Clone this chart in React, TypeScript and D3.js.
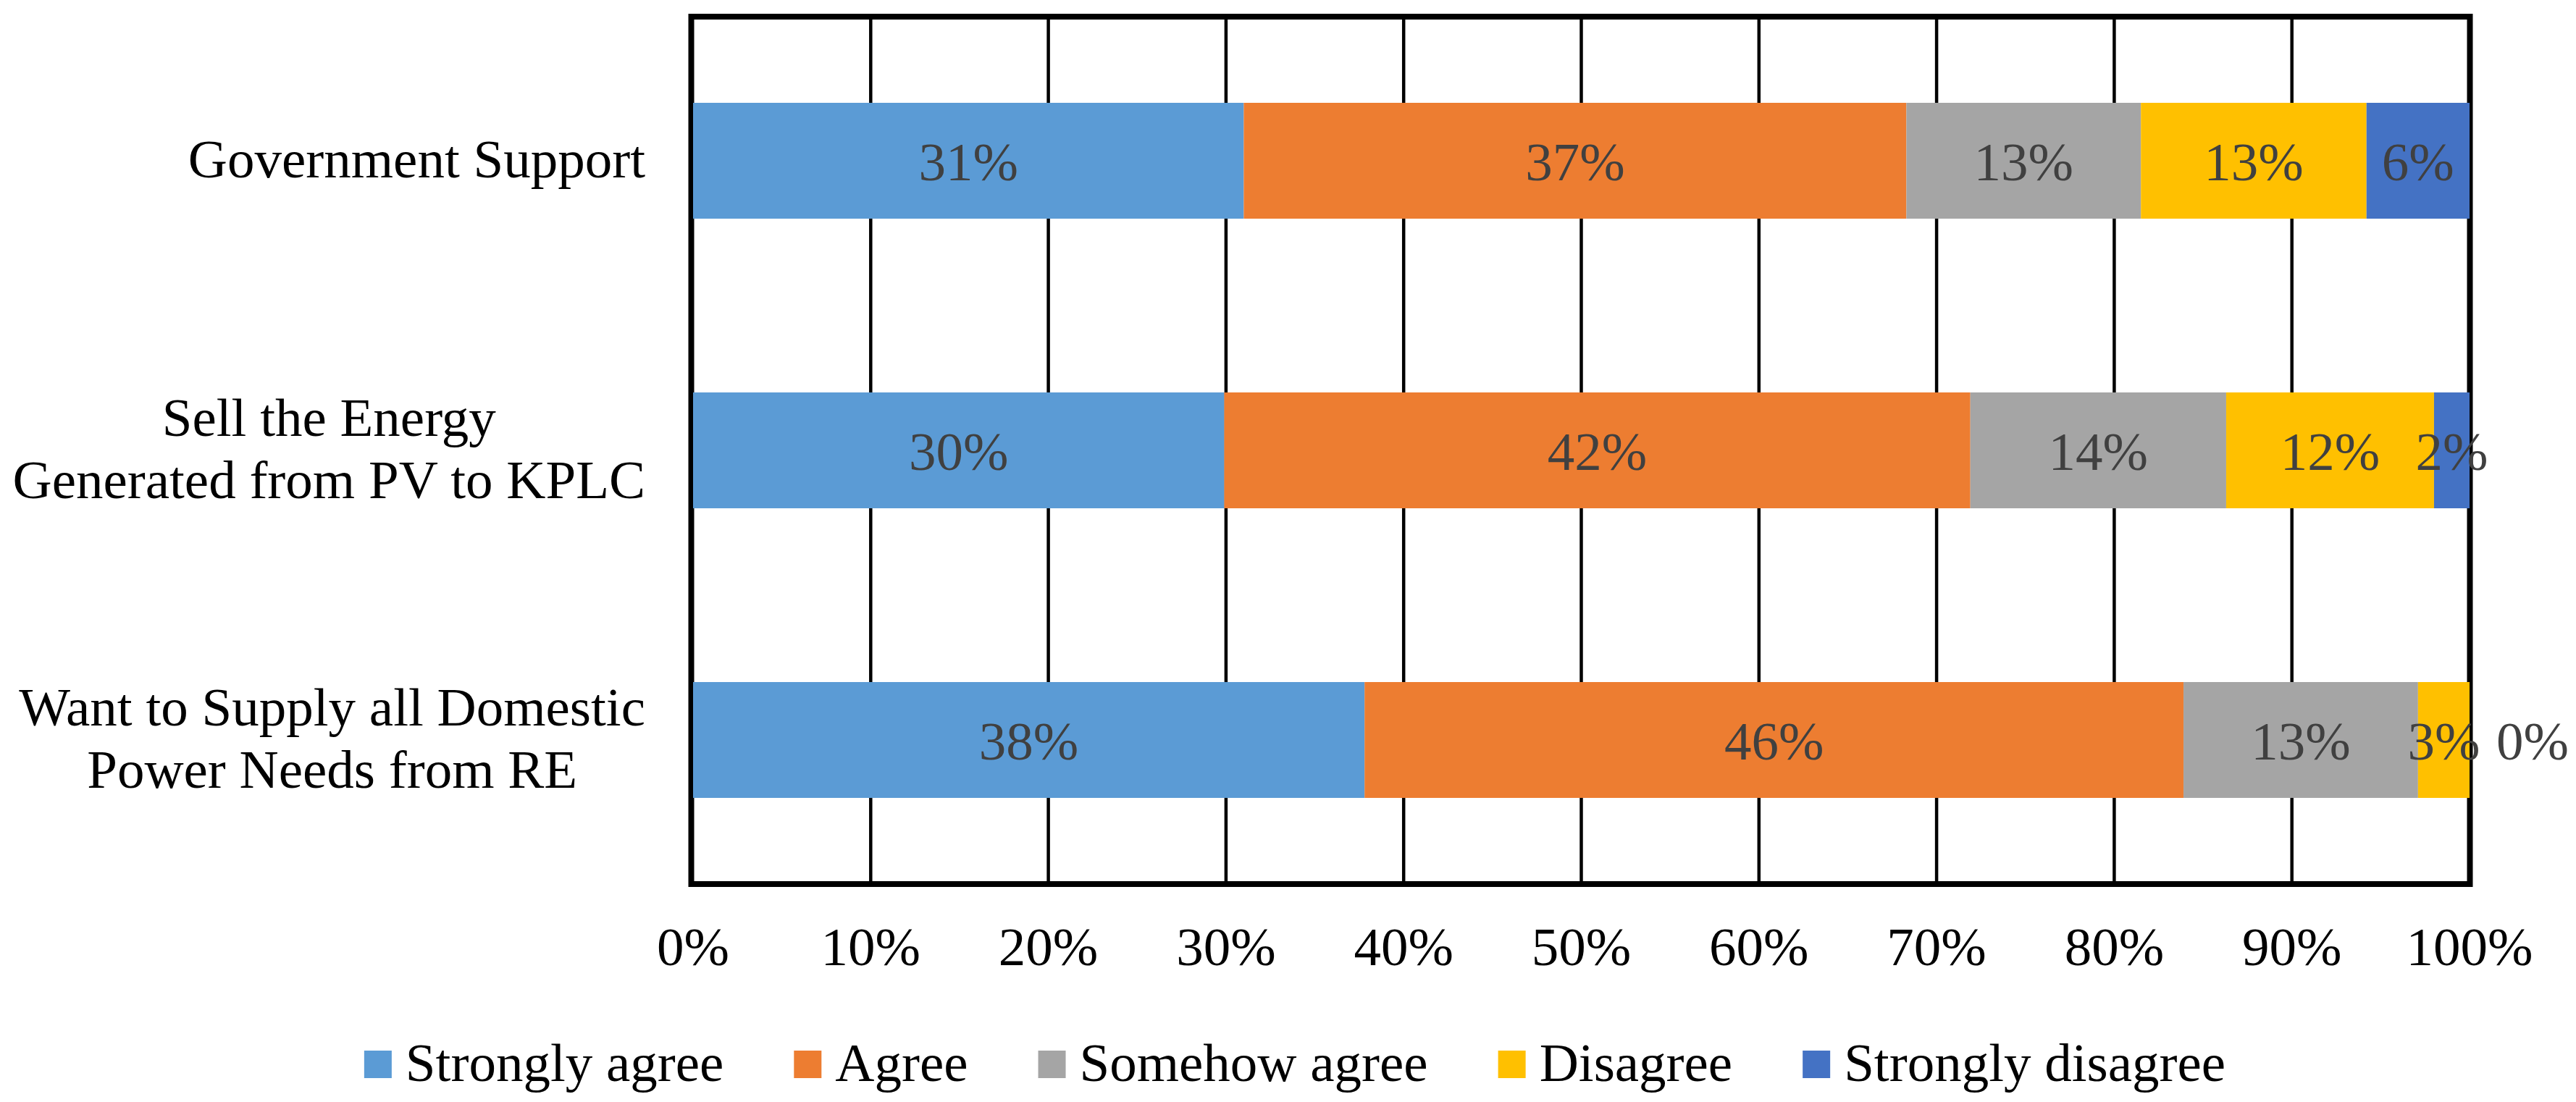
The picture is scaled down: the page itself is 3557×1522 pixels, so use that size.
import React, { useLayoutEffect, useRef, useState } from 'react';
import * as d3 from 'd3';

// ---- data ----
const categoryLines: string[][] = [
  ['Government Support'],
  ['Sell the Energy', 'Generated from PV to KPLC'],
  ['Want to Supply all Domestic', 'Power Needs from RE'],
];
const seriesNames = ['Strongly agree', 'Agree', 'Somehow agree', 'Disagree', 'Strongly disagree'];
const stronglyAgree = [31.0, 29.9, 37.8];
const agree = [37.3, 42.0, 46.1];
const somehowAgree = [13.2, 14.4, 13.2];
const disagree = [12.7, 11.7, 2.9];
const stronglyDisagree = [5.8, 2.0, 0.0];
const xTicks = [0, 10, 20, 30, 40, 50, 60, 70, 80, 90, 100];
const seriesColors = ['#5B9BD5', '#ED7D31', '#A5A5A5', '#FFC000', '#4472C4'];

const W = 3557;
const H = 1522;
const FS = 75;

export default function App() {
  const seriesValues = [stronglyAgree, agree, somehowAgree, disagree, stronglyDisagree];
  const keys = categoryLines.map((_, i) => String(i));
  const x = d3.scaleLinear().domain([0, 100]).range([957, 3410]);
  const y = d3.scaleBand<string>().domain(keys).range([22, 1222]).paddingInner(0.6).paddingOuter(0.3);

  const rows = keys.map((k, i) => {
    const obj: Record<string, number> = {};
    seriesNames.forEach((s, j) => (obj[s] = seriesValues[j][i]));
    return { key: k, ...obj } as any;
  });
  const stacked = d3.stack<any>().keys(seriesNames)(rows);
  const fmt = (v: number) => d3.format('.0%')(v / 100);

  const measRef = useRef<SVGGElement>(null);
  const [legW, setLegW] = useState<number[]>(seriesNames.map((s) => s.length * 33));
  const [catW, setCatW] = useState<number[]>(categoryLines.map((ls) => Math.max(...ls.map((l) => l.length * 33))));

  useLayoutEffect(() => {
    const g = measRef.current;
    if (!g) return;
    const ts = Array.from(g.querySelectorAll('text')) as SVGTextElement[];
    const lw = seriesNames.map((_, i) => ts[i].getComputedTextLength());
    let k = seriesNames.length;
    const cw = categoryLines.map((ls) => {
      const ws = ls.map(() => ts[k++].getComputedTextLength());
      return Math.max(...ws);
    });
    setLegW(lw);
    setCatW(cw);
  }, []);

  // legend layout
  const swatch = 38;
  const swGap = 19;
  const itemGap = 97;
  const totalW = legW.reduce((a, w) => a + swatch + swGap + w, 0) + itemGap * (seriesNames.length - 1);
  let lx = 1788 - totalW / 2;
  const legendItems = seriesNames.map((s, i) => {
    const item = { name: s, color: seriesColors[i], x: lx };
    lx += swatch + swGap + legW[i] + itemGap;
    return item;
  });

  const labelRight = 891;
  const lineH = 86;
  const txt = { fontFamily: "'Liberation Serif'", fontSize: FS };

  return (
    <svg width={W} height={H} style={{ position: 'absolute', left: 0, top: 0, background: '#fff' }}>
      <rect x={0} y={0} width={W} height={H} fill="#fff" />
      <g ref={measRef} opacity={0}>
        {seriesNames.map((s) => (
          <text key={s} x={0} y={-100} style={txt}>{s}</text>
        ))}
        {categoryLines.flat().map((s) => (
          <text key={s} x={0} y={-100} style={txt}>{s}</text>
        ))}
      </g>
      {/* gridlines */}
      {xTicks.slice(1, -1).map((t) => (
        <line key={t} x1={x(t)} x2={x(t)} y1={23} y2={1221} stroke="#000" strokeWidth={4.5} />
      ))}
      {/* frame */}
      <rect x={954.5} y={23} width={3410.5 - 954.5} height={1221 - 23} fill="none" stroke="#000" strokeWidth={8} />
      {/* bars */}
      {stacked.map((layer, si) => (
        <g key={layer.key} fill={seriesColors[si]}>
          {layer.map((d, i) => (
            <rect
              key={i}
              x={x(d[0])}
              y={y(keys[i])!}
              width={Math.max(0, x(d[1]) - x(d[0]))}
              height={y.bandwidth()}
            />
          ))}
        </g>
      ))}
      {/* data labels */}
      {stacked.map((layer, si) => (
        <g key={'l' + layer.key}>
          {layer.map((d, i) => {
            const v = d[1] - d[0];
            const yc = y(keys[i])! + y.bandwidth() / 2;
            const zero = v <= 0.0001;
            return (
              <text
                key={i}
                x={zero ? x(d[1]) + 37 : (x(d[0]) + x(d[1])) / 2}
                y={yc + 27}
                textAnchor={zero ? 'start' : 'middle'}
                fill="#404040"
                style={txt}
              >
                {fmt(seriesValues[si][i])}
              </text>
            );
          })}
        </g>
      ))}
      {/* category labels */}
      {categoryLines.map((lines, i) => {
        const yc = y(keys[i])! + y.bandwidth() / 2;
        const cx = labelRight - catW[i] / 2;
        const n = lines.length;
        return (
          <g key={'c' + i}>
            {lines.map((l, j) => (
              <text
                key={j}
                x={cx}
                y={yc + 23 + (j - (n - 1) / 2) * lineH}
                textAnchor="middle"
                fill="#000"
                style={txt}
              >
                {l}
              </text>
            ))}
          </g>
        );
      })}
      {/* x tick labels */}
      {xTicks.map((t) => (
        <text key={'t' + t} x={x(t)} y={1333} textAnchor="middle" fill="#000" style={txt}>
          {fmt(t)}
        </text>
      ))}
      {/* legend */}
      {legendItems.map((it) => (
        <g key={'lg' + it.name}>
          <rect x={it.x} y={1451} width={swatch} height={swatch} fill={it.color} />
          <text x={it.x + swatch + swGap} y={1493} fill="#000" style={txt}>
            {it.name}
          </text>
        </g>
      ))}
    </svg>
  );
}
